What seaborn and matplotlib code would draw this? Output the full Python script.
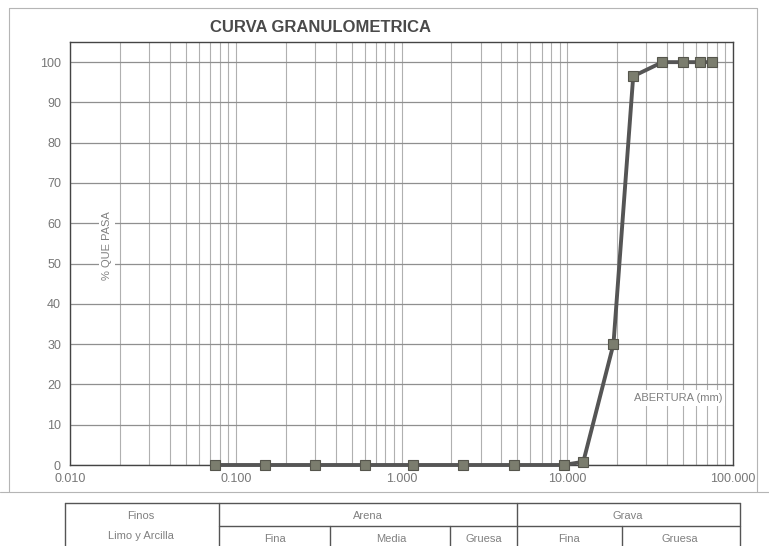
import numpy as np
import pandas as pd
import seaborn as sns
import matplotlib.pyplot as plt
from matplotlib.ticker import FixedLocator, LogLocator, NullFormatter
from matplotlib.lines import Line2D

# sieve openings (mm) and percent passing
abertura = [0.075, 0.15, 0.3, 0.6, 1.18, 2.36, 4.75, 9.5, 12.5, 19.0, 25.0, 37.5, 50.0, 63.0, 75.0]
pasa = [0.0, 0.0, 0.0, 0.0, 0.0, 0.0, 0.0, 0.0, 0.8, 30.0, 96.5, 100.0, 100.0, 100.0, 100.0]

x_ticks = [0.01, 0.1, 1, 10, 100]
x_labels = ['0.010', '0.100', '1.000', '10.000', '100.000']
y_ticks = list(range(0, 101, 10))

# classification table below the chart
grupos = ['Finos', 'Arena', 'Grava']
sub_grupos = ['Limo y Arcilla', 'Fina', 'Media', 'Gruesa', 'Fina', 'Gruesa']

sns.set_style('white')
plt.rcParams['font.family'] = ['Liberation Sans', 'DejaVu Sans']

df = pd.DataFrame({'abertura': abertura, 'pasa': pasa})

W, H = 769, 546
fig = plt.figure(figsize=(W / 100, H / 100), dpi=100)

ax = fig.add_axes([70 / W, 1 - 465 / H, 663 / W, 423 / H])
ax.set_xscale('log')
ax.set_xlim(0.01, 100)
ax.set_ylim(0, 105)

ax.xaxis.set_major_locator(FixedLocator(x_ticks))
ax.xaxis.set_minor_locator(LogLocator(base=10, subs=np.arange(2, 10)))
ax.xaxis.set_minor_formatter(NullFormatter())
ax.set_xticks(x_ticks)
ax.set_xticklabels(x_labels)
ax.set_yticks(y_ticks)
ax.grid(True, which='both', axis='x', color='#b0b0b0', linewidth=0.8)
ax.grid(True, which='major', axis='y', color='#8f8f8f', linewidth=0.9)
ax.set_axisbelow(True)

sns.lineplot(data=df, x='abertura', y='pasa', ax=ax, color='#555555', linewidth=2.8,
             marker='s', markersize=7, markerfacecolor='#7b7d6e', markeredgecolor='#55554c',
             markeredgewidth=0.8, zorder=5, clip_on=False)

ax.tick_params(axis='both', which='major', labelsize=9, labelcolor='#777777', length=3,
               color='#777777')
ax.tick_params(axis='x', which='major', length=0, pad=6)
ax.tick_params(axis='x', which='minor', length=0)
for s in ax.spines.values():
    s.set_color('#444444')
    s.set_linewidth(1.0)
ax.set_xlabel('')
ax.set_ylabel('')

ax.text(0.0167, 54.5, '% QUE PASA', rotation=90, ha='center', va='center', fontsize=8,
        color='#808080', bbox=dict(facecolor='white', edgecolor='none', pad=2), zorder=4)
ax.text(46.5, 16.6, 'ABERTURA (mm)', ha='center', va='center', fontsize=8,
        color='#808080', bbox=dict(facecolor='white', edgecolor='none', pad=2), zorder=4)

fig.text(320 / W, 1 - 28 / H, 'CURVA GRANULOMETRICA', ha='center', va='center',
         fontsize=12, fontweight='bold', color='#4a4a4a')

# outer frame of the chart area
frame_kw = dict(color='#b5b5b5', linewidth=0.8, transform=fig.transFigure)
fig.add_artist(Line2D([9 / W, 757 / W], [1 - 8 / H, 1 - 8 / H], **frame_kw))
fig.add_artist(Line2D([9 / W, 9 / W], [1 - 8 / H, 1 - 492 / H], **frame_kw))
fig.add_artist(Line2D([757 / W, 757 / W], [1 - 8 / H, 1 - 492 / H], **frame_kw))
fig.add_artist(Line2D([0, 1], [1 - 492 / H, 1 - 492 / H], **frame_kw))

# table
tx = fig.add_axes([0, 0, 1, 1])
tx.set_xlim(0, W)
tx.set_ylim(H, 0)
tx.axis('off')
lk = dict(color='#555555', linewidth=1.0)
tx.plot([65, 740], [503, 503], **lk)
tx.plot([65, 65], [503, 546], **lk)
tx.plot([740, 740], [503, 546], **lk)
tx.plot([219, 219], [503, 546], **lk)
tx.plot([517, 517], [503, 546], **lk)
tx.plot([219, 740], [526, 526], **lk)
for xv in [330, 450, 622]:
    tx.plot([xv, xv], [526, 546], **lk)

tk = dict(ha='center', va='center', fontsize=8, color='#808080')
for name, xc in zip(grupos, [141, 368, 628]):
    tx.text(xc, 516, name, **tk)
for name, (xc, yc) in zip(sub_grupos, [(141, 536), (275, 539), (391, 539), (484, 539),
                                       (569, 539), (680, 539)]):
    tx.text(xc, yc, name, **tk)

fig.savefig('out.png', dpi=100, facecolor='white')
